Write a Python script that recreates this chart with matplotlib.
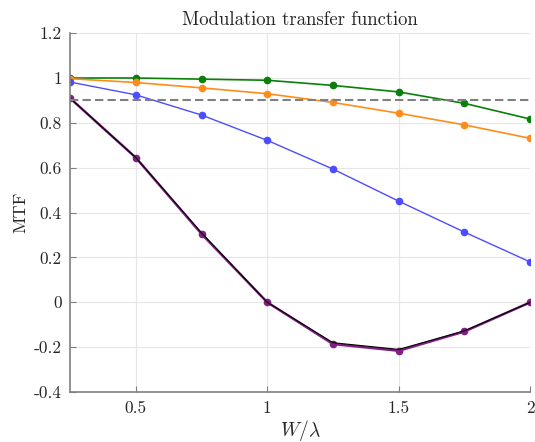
import matplotlib
matplotlib.use("Agg")
import matplotlib.pyplot as plt

plt.rcParams['font.family'] = 'serif'
plt.rcParams['font.serif'] = ['cmr10', 'DejaVu Serif']
plt.rcParams['mathtext.fontset'] = 'cm'
plt.rcParams['axes.unicode_minus'] = False

# data
w_over_lambda = [0.25, 0.5, 0.75, 1.0, 1.25, 1.5, 1.75, 2.0]
mtf_green = [1.0, 1.0, 0.995, 0.99, 0.967, 0.938, 0.887, 0.817]
mtf_orange = [0.997, 0.98, 0.956, 0.93, 0.891, 0.843, 0.791, 0.731]
mtf_blue = [0.982, 0.925, 0.835, 0.722, 0.594, 0.451, 0.313, 0.18]
mtf_purple = [0.91, 0.645, 0.305, 0.0, -0.186, -0.216, -0.13, 0.0]
mtf_black = [0.91, 0.645, 0.31, 0.0, -0.18, -0.21, -0.127, 0.0]
threshold = 0.9

x_ticks = [0.5, 1.0, 1.5, 2.0]
x_labels = ['0.5', '1', '1.5', '2']
y_ticks = [-0.4, -0.2, 0, 0.2, 0.4, 0.6, 0.8, 1.0, 1.2]
y_labels = ['-0.4', '-0.2', '0', '0.2', '0.4', '0.6', '0.8', '1', '1.2']

fig = plt.figure(figsize=(5.35, 4.42), dpi=100)
ax = fig.add_axes([0.131, 0.113, 0.86, 0.812])

ax.plot(w_over_lambda, mtf_green, '-o', color='#0a800a', lw=1.2, ms=4.5)
ax.plot(w_over_lambda, mtf_orange, '-o', color='#ff8c1a', lw=1.2, ms=4.5)
ax.plot(w_over_lambda, mtf_blue, '-o', color='#4d4dff', lw=1.0, ms=4.5)
ax.plot(w_over_lambda, mtf_purple, '-o', color='#7f1f80', lw=1.8, ms=4.5)
ax.plot(w_over_lambda, mtf_black, '-', color='black', lw=0.8)
ax.axhline(threshold, color='#808080', ls='--', lw=1.5, dashes=(4, 2))

ax.set_xlim(0.25, 2)
ax.set_ylim(-0.4, 1.2)
ax.set_xticks(x_ticks)
ax.set_xticklabels(x_labels)
ax.set_yticks(y_ticks)
ax.set_yticklabels(y_labels)
ax.grid(True, color='#e6e6e6', lw=0.8)
ax.set_axisbelow(True)

for s in ['top', 'right']:
    ax.spines[s].set_visible(False)
for s in ['left', 'bottom']:
    ax.spines[s].set_color('#808080')
    ax.spines[s].set_linewidth(1.2)
ax.tick_params(direction='in', length=4, color='#808080', labelsize=12.5, labelcolor='#262626', pad=6)

ax.set_title('Modulation transfer function', fontsize=13.5, color='#262626')
ax.set_xlabel(r'$W/\lambda$', fontsize=14, color='#262626', labelpad=2)
ax.set_ylabel('MTF', fontsize=13, color='#262626')

fig.savefig('out.png', dpi=100)
